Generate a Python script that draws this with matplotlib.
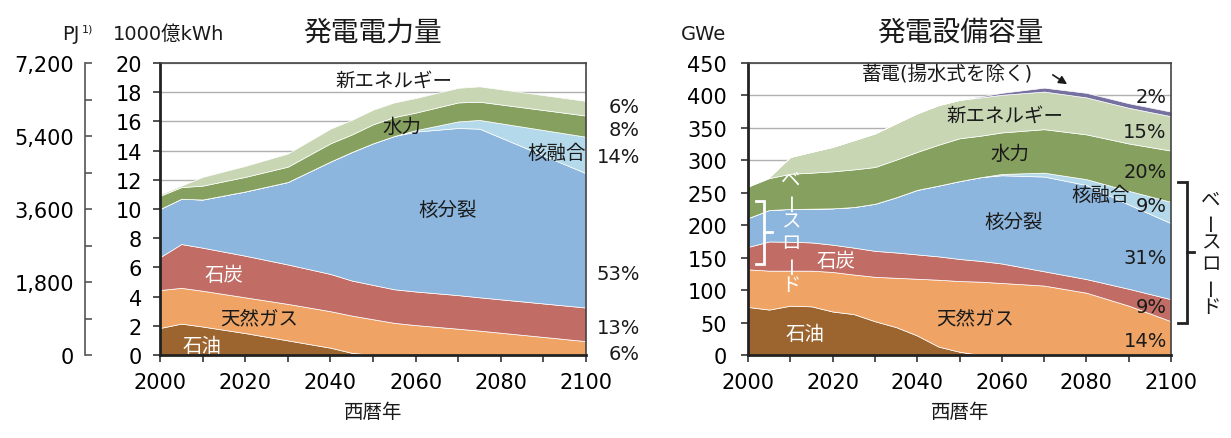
import matplotlib.pyplot as plt
from matplotlib.ticker import MultipleLocator, FuncFormatter

# 発電電力量 [1000億kWh] per source (stack thickness)
years_e = [2000, 2005, 2010, 2020, 2030, 2040, 2045, 2050, 2055, 2060, 2070, 2075, 2100]
oil_e = [1.85, 2.15, 1.95, 1.5, 1.0, 0.5, 0.15, 0, 0, 0, 0, 0, 0]
gas_e = [2.6, 2.45, 2.45, 2.45, 2.5, 2.5, 2.55, 2.45, 2.2, 2.05, 1.8, 1.67, 0.95]
coal_e = [2.25, 3.0, 2.95, 2.85, 2.7, 2.55, 2.4, 2.35, 2.3, 2.3, 2.3, 2.28, 2.3]
fission_e = [3.3, 3.1, 3.3, 4.4, 5.65, 7.7, 8.8, 9.7, 10.5, 10.95, 11.45, 11.55, 9.2]
fusion_e = [0, 0, 0, 0, 0, 0, 0, 0, 0, 0.1, 0.45, 0.6, 2.5]
hydro_e = [0.9, 0.8, 0.95, 1.0, 1.05, 1.25, 1.2, 1.3, 1.3, 1.2, 1.3, 1.25, 1.45]
new_e = [0.1, 0.1, 0.6, 0.75, 0.9, 1.0, 1.0, 1.0, 1.0, 1.0, 1.0, 1.05, 1.0]
pct_e = ['6%', '8%', '14%', '53%', '13%', '6%']

# 発電設備容量 [GWe] per source
years_c = [2000, 2005, 2010, 2015, 2020, 2025, 2030, 2035, 2040, 2045, 2050,
           2055, 2060, 2070, 2080, 2090, 2100]
oil_c = [74, 70, 76, 75, 67, 63, 52, 43, 30, 13, 5, 0, 0, 0, 0, 0, 0]
gas_c = [58, 60, 54, 55, 61, 61, 68.5, 76, 87.5, 103, 109, 113, 111, 107, 96, 76, 52]
coal_c = [34.5, 45, 44.5, 43.5, 42, 41.5, 40, 39, 37.5, 36, 34, 32, 30, 22, 21, 26, 34]
fission_c = [44.5, 48.5, 50.5, 52, 56, 62.5, 72.5, 85, 99.5, 109, 120, 129, 136, 146, 145, 130, 117]
fusion_c = [0, 0, 0, 0, 0, 0, 0, 0, 0, 0, 0, 0, 2, 6, 9, 21, 33]
hydro_c = [48.6, 49.1, 54.3, 55.5, 57, 58, 56.7, 58, 58.5, 63, 66, 64, 64, 67, 69, 73, 79]
new_c = [0, 1.6, 25.9, 32, 37.7, 45, 51.7, 56, 59.4, 61, 59, 59, 58, 58, 57, 55, 53]
storage_c = [0, 0, 0, 0, 0, 0, 0, 0, 0, 0, 0, 1.5, 3, 6, 7, 7, 7]
pct_c = ['2%', '15%', '20%', '9%', '31%', '9%', '14%']

colors = ['#9c652f', '#efa466', '#c16c64', '#8cb6dd', '#b4d9ea', '#86a05f', '#c8d6b4', '#75709f']

W, H = 1231, 439
plt.rcParams.update({'figure.dpi': 100,
                     'figure.figsize': [W/100, H/100],
                     'font.size': 15})
plt.rcParams['font.family'] = ['DejaVu Sans', 'Noto Sans CJK JP']

fig = plt.figure()
ax1 = fig.add_axes([160/W, 1-356/H, 426/W, 292/H])
ax2 = fig.add_axes([748/W, 1-356/H, 423/W, 292/H])

ax1.stackplot(years_e, oil_e, gas_e, coal_e, fission_e, fusion_e, hydro_e, new_e,
              colors=colors[:7], edgecolor='white', linewidth=0.5)
ax2.stackplot(years_c, oil_c, gas_c, coal_c, fission_c, fusion_c, hydro_c, new_c, storage_c,
              colors=colors, edgecolor='white', linewidth=0.5)

for ax in (ax1, ax2):
    ax.set_xlim(2000, 2100)
    ax.xaxis.set_major_locator(MultipleLocator(20))
    ax.xaxis.set_minor_locator(MultipleLocator(10))
    ax.tick_params(which='both', direction='out', length=5, width=1.2, color='#333333')
    ax.tick_params(axis='x', pad=7)
    ax.set_axisbelow(True)
    ax.yaxis.grid(True, color='#b0b0b0', lw=1)
    for side in ('top', 'right'):
        ax.spines[side].set_color('#444444')
        ax.spines[side].set_linewidth(1.2)
    for side in ('left', 'bottom'):
        ax.spines[side].set_color('#222222')
        ax.spines[side].set_linewidth(2)

ax1.set_ylim(0, 20)
ax1.yaxis.set_major_locator(MultipleLocator(2))
ax1.tick_params(axis='y', pad=8)
ax2.set_ylim(0, 450)
ax2.yaxis.set_major_locator(MultipleLocator(50))
ax2.tick_params(axis='y', pad=10)

# PJ axis on the far left
pj = ax1.secondary_yaxis(-0.176, functions=(lambda v: v*360, lambda v: v/360))
pj.set_yticks([0, 1800, 3600, 5400, 7200])
pj.yaxis.set_minor_locator(MultipleLocator(900))
pj.yaxis.set_major_formatter(FuncFormatter(lambda v, p: f'{v:,.0f}'))
pj.tick_params(which='both', direction='in', length=5, width=1.2, color='#555555', pad=8)
pj.spines['left'].set_color('#555555')
pj.spines['left'].set_linewidth(1.2)

# labels on the energy chart
dark = '#1a1a1a'
ax1.text(2055, 18.8, '新エネルギー', ha='center', va='center', color=dark, fontsize=14)
ax1.text(2056.7, 15.65, '水力', ha='center', va='center', color=dark, fontsize=14)
ax1.text(2093, 13.9, '核融合', ha='center', va='center', color=dark, fontsize=14)
ax1.text(2067.5, 9.95, '核分裂', ha='center', va='center', color=dark, fontsize=14)
ax1.text(2015.1, 5.5, '石炭', ha='center', va='center', color='white', fontsize=14)
ax1.text(2023.3, 2.54, '天然ガス', ha='center', va='center', color=dark, fontsize=14)
ax1.text(2009.9, 0.62, '石油', ha='center', va='center', color='white', fontsize=14)
for y, s in zip([17.0, 15.45, 13.6, 5.56, 1.85, 0.07], pct_e):
    ax1.text(2112.7, y, s, ha='right', va='center', color=dark, fontsize=14)

# labels on the capacity chart
ax2.text(2026.9, 433, '蓄電(揚水式を除く)', ha='left', va='center', color=dark, fontsize=14)
ax2.annotate('', xy=(2076, 415), xytext=(2071.5, 434),
             arrowprops=dict(arrowstyle='-|>', color=dark, lw=1.2, mutation_scale=12))
ax2.text(2060.8, 369, '新エネルギー', ha='center', va='center', color=dark, fontsize=14)
ax2.text(2062, 310, '水力', ha='center', va='center', color=dark, fontsize=14)
ax2.text(2083.3, 246.7, '核融合', ha='center', va='center', color=dark, fontsize=14)
ax2.text(2062.7, 206, '核分裂', ha='center', va='center', color=dark, fontsize=14)
ax2.text(2020.8, 146, '石炭', ha='center', va='center', color='white', fontsize=14)
ax2.text(2053.7, 57.4, '天然ガス', ha='center', va='center', color=dark, fontsize=14)
ax2.text(2013.6, 32.6, '石油', ha='center', va='center', color='white', fontsize=14)
for y, s in zip([399, 344.5, 282.4, 229.7, 150.5, 74.5, 21.7], pct_c):
    ax2.text(2099, y, s, ha='right', va='center', color=dark, fontsize=14)


def vtext(ax, x, y0, step, s, color):
    for i, ch in enumerate(s):
        ax.text(x, y0 - i*step, ch, rotation=90 if ch == 'ー' else 0,
                ha='center', va='center', color=color, fontsize=14, clip_on=False)


# ベースロード brackets
ax2.plot([2001.8, 2003.9, 2003.9, 2001.8], [237.4, 237.4, 139.7, 139.7],
         color='white', lw=2, solid_joinstyle='miter')
ax2.plot([2003.9, 2005.6], [189.3, 189.3], color='white', lw=2)
vtext(ax2, 2010.2, 271.6, 32.6, 'ベースロード', 'white')

ax2.plot([2101.6, 2103.7, 2103.7, 2101.6], [266.9, 266.9, 49.7, 49.7],
         color='#222222', lw=2, clip_on=False, solid_joinstyle='miter')
ax2.plot([2103.7, 2105.4], [158.3, 158.3], color='#222222', lw=2, clip_on=False)
vtext(ax2, 2109.4, 240.5, 33.2, 'ベースロード', dark)

# titles and unit labels
def ftext(x, y, s, **kw):
    fig.text(x/W, 1 - y/H, s, va='center', color=dark, **kw)


ftext(373, 33, '発電電力量', ha='center', fontsize=20)
ftext(960, 33, '発電設備容量', ha='center', fontsize=20)
ftext(80, 34, 'PJ', ha='right', fontsize=14)
ftext(82, 30, '1)', ha='left', fontsize=8)
ftext(169, 34, '1000億kWh', ha='center', fontsize=14)
ftext(703, 34, 'GWe', ha='center', fontsize=14)
ftext(373, 413, '西暦年', ha='center', fontsize=14)
ftext(960, 413, '西暦年', ha='center', fontsize=14)

fig.savefig('out.png')
